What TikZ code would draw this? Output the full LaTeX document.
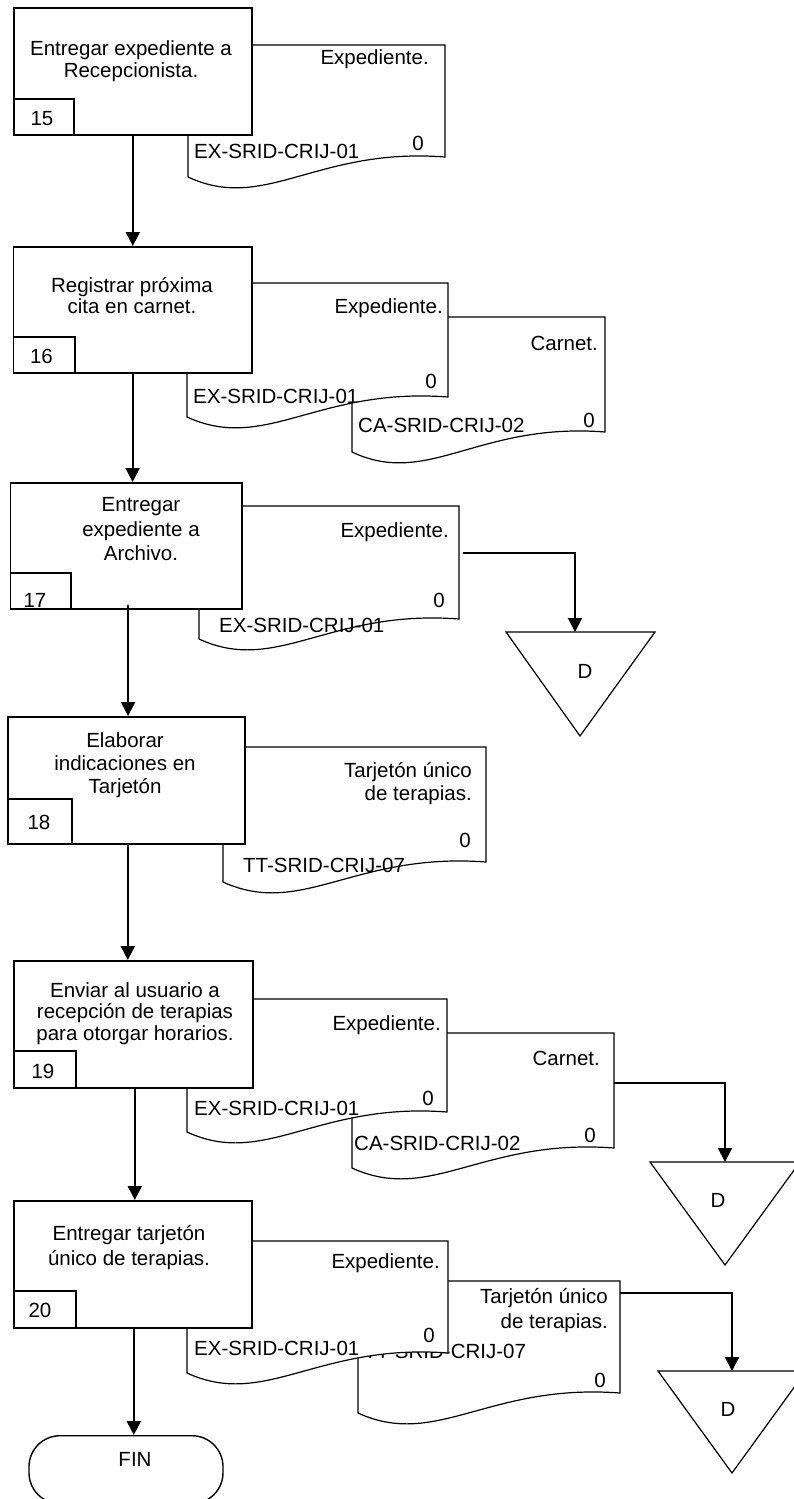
\documentclass[tikz,border=0pt]{standalone}
\usepackage{fontspec}
\setmainfont{Liberation Sans}
\usetikzlibrary{arrows.meta}

% document symbol: left x, right x, top y, y of lower left corner
\newcommand\docshape[4]{%
  \draw[docline] (#1,#3) -- (#2,#3) -- (#2,{#4-20})
    .. controls ({#1+0.5*(#2-#1)},{#4-30}) and ({#1+0.3*(#2-#1)},{#4+36}) .. (#1,#4) -- cycle;}

\begin{document}
\begin{tikzpicture}[x=1pt,y=-1pt,
  txt/.style={inner sep=0pt, font=\fontsize{20.5}{24}\selectfont},
  boxtxt/.style={inner sep=0pt, align=center, anchor=base, font=\fontsize{20.5}{#1}\selectfont},
  procbox/.style={draw, fill=white, line width=1.6pt, inner sep=0pt, anchor=north west},
  numbox/.style={draw, line width=1.6pt, inner sep=0pt, anchor=south west},
  docline/.style={fill=white, line width=1.2pt},
  flow/.style={line width=2pt, -{Triangle[length=14pt,width=14pt]}},
  tri/.style={line width=1.2pt},
  term/.style={draw, line width=1.4pt, rounded corners=31pt, inner sep=0pt, anchor=north}]

\useasboundingbox (0,0) rectangle (794,1499);

% ---------------- 15 ----------------
\docshape{188}{445}{45}{177}
\node[txt, anchor=base east] (x15) at (429,64) {Expediente.};
\node[txt, anchor=base] (z15) at (418,150) {0};
\node[txt, anchor=base west] (c15) at (194,158) {EX-SRID-CRIJ-01};
\node[procbox, minimum width=238pt, minimum height=127pt] (b15) at (13,7) {};
\node[boxtxt=22pt] (t15) at (131,77) {Entregar expediente a\\Recepcionista.};
\node[numbox, minimum width=60pt, minimum height=36pt] (n15) at (b15.south west) {};
\node[txt, anchor=base] (l15) at (42,125) {15};

% ---------------- 16 ----------------
\docshape{352}{605}{317}{452}
\node[txt, anchor=base east] (y16) at (598,350) {Carnet.};
\node[txt, anchor=base] (w16) at (589,427) {0};
\node[txt, anchor=base west] (a16) at (358,432) {CA-SRID-CRIJ-02};
\docshape{187}{448}{283}{417}
\node[txt, anchor=base east] (x16) at (443,313) {Expediente.};
\node[txt, anchor=base] (z16) at (431,388) {0};
\node[txt, anchor=base west] (c16) at (193,403) {EX-SRID-CRIJ-01};
\node[procbox, minimum width=238.4pt, minimum height=126pt] (b16) at (12.6,246) {};
\node[boxtxt=21pt] (t16) at (132,313) {Registrar próxima\\cita en carnet.};
\node[numbox, minimum width=61.4pt, minimum height=36pt] (n16) at (b16.south west) {};
\node[txt, anchor=base] (l16) at (41.5,363) {16};

% ---------------- 17 ----------------
\docshape{199}{459}{506}{639}
\node[txt, anchor=base east] (x17) at (449,537) {Expediente.};
\node[txt, anchor=base] (z17) at (439,607) {0};
\node[txt, anchor=base west] (c17) at (219,632) {EX-SRID-CRIJ-01};
\node[procbox, minimum width=231.5pt, minimum height=126pt] (b17) at (9.5,482) {};
\node[boxtxt=24.5pt] (t17) at (141,560.7) {Entregar\\expediente a\\Archivo.};
\node[numbox, minimum width=60.5pt, minimum height=36pt] (n17) at (b17.south west) {};
\node[txt, anchor=base] (l17) at (35,607) {17};
% archive
\coordinate (o17) at (463,553);
\coordinate (d17) at (575,632);
\draw[tri] (506,632) -- (655,632) -- (580,736) -- cycle;
\node[txt, anchor=base] (k17) at (585,678) {D};

% ---------------- 18 ----------------
\docshape{223}{486}{747}{882}
\node[txt, anchor=base east] (x18) at (472,777) {Tarjetón único};
\node[txt, anchor=base east] (v18) at (472,800) {de terapias.};
\node[txt, anchor=base] (z18) at (465,847) {0};
\node[txt, anchor=base west] (c18) at (243,872) {TT-SRID-CRIJ-07};
\node[procbox, minimum width=237pt, minimum height=127pt] (b18) at (7,716) {};
\node[boxtxt=23pt] (t18) at (125,793) {Elaborar\\indicaciones en\\Tarjetón};
\node[numbox, minimum width=64pt, minimum height=45pt] (n18) at (b18.south west) {};
\node[txt, anchor=base] (l18) at (39,829) {18};

% ---------------- 19 ----------------
\docshape{352}{614}{1033}{1168}
\node[txt, anchor=base east] (y19) at (600,1065) {Carnet.};
\node[txt, anchor=base] (w19) at (590,1142) {0};
\node[txt, anchor=base west] (a19) at (354,1150) {CA-SRID-CRIJ-02};
\docshape{187}{447}{999}{1132}
\node[txt, anchor=base east] (x19) at (441,1030) {Expediente.};
\node[txt, anchor=base] (z19) at (428,1105) {0};
\node[txt, anchor=base west] (c19) at (194,1115) {EX-SRID-CRIJ-01};
\node[procbox, minimum width=239pt, minimum height=127pt] (b19) at (13,960) {};
\node[boxtxt=21.5pt] (t19) at (135,1040) {Enviar al usuario a\\recepción de terapias\\para otorgar horarios.};
\node[numbox, minimum width=62pt, minimum height=37pt] (n19) at (b19.south west) {};
\node[txt, anchor=base] (l19) at (43,1078) {19};
\coordinate (o19) at (614,1083);
\coordinate (d19) at (725,1162);
\draw[tri] (650,1162) -- (800,1162) -- (725,1265) -- cycle;
\node[txt, anchor=base] (k19) at (718,1207) {D};

% ---------------- 20 ----------------
\docshape{358}{620}{1281}{1413}
\node[txt, anchor=base east] (x20b) at (608,1303) {Tarjetón único};
\node[txt, anchor=base east] (v20) at (608,1328) {de terapias.};
\node[txt, anchor=base] (w20) at (600,1387) {0};
\node[txt, anchor=base west] (a20) at (364,1358) {TT-SRID-CRIJ-07};
\docshape{187}{448}{1241}{1373}
\node[txt, anchor=base east] (x20) at (440,1268) {Expediente.};
\node[txt, anchor=base] (z20) at (429,1342) {0};
\node[txt, anchor=base west] (c20) at (194,1355) {EX-SRID-CRIJ-01};
\node[procbox, minimum width=238pt, minimum height=127pt] (b20) at (13,1200) {};
\node[boxtxt=25pt] (t20) at (129,1265) {Entregar tarjetón\\único de terapias.};
\node[numbox, minimum width=62pt, minimum height=37pt] (n20) at (b20.south west) {};
\node[txt, anchor=base] (l20) at (40,1317) {20};
\coordinate (o20) at (620,1293);
\coordinate (d20) at (732,1371);
\draw[tri] (658,1371) -- (806,1371) -- (732,1473) -- cycle;
\node[txt, anchor=base] (k20) at (728,1416) {D};

% terminator
\node[term, minimum width=194pt, minimum height=68pt] (fin) at (126,1435) {};
\node[txt, anchor=base] (finl) at (135,1466) {FIN};

% flow
\draw[flow] (b15.south) -- (b15.south |- b16.north);
\draw[flow] (b16.south) -- (b16.south |- b17.north);
\draw[flow] ([xshift=2pt,yshift=5pt]b17.south) -- ([xshift=2pt]b17.south |- b18.north);
\draw[flow] ([xshift=1.5pt]b18.south) -- ([xshift=1.5pt]b18.south |- b19.north);
\draw[flow] ([xshift=1.5pt]b19.south) -- ([xshift=1.5pt]b19.south |- b20.north);
\draw[flow] ([xshift=1pt]b20.south) -- ([xshift=1pt]b20.south |- fin.north);
\draw[flow] (o17) -| (d17);
\draw[flow] (o19) -| (d19);
\draw[flow] (o20) -| (d20);
\end{tikzpicture}
\end{document}
